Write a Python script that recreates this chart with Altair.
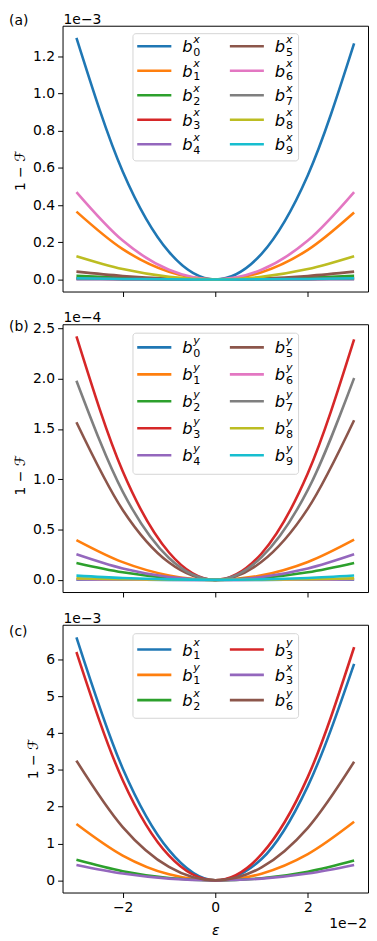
import altair as alt
import pandas as pd

# ---------------- data ----------------
eps = [-3, -2, -1, 0, 1, 2, 3]  # epsilon, units of 1e-2

tab10 = ["#1f77b4", "#ff7f0e", "#2ca02c", "#d62728", "#9467bd",
         "#8c564b", "#e377c2", "#7f7f7f", "#bcbd22", "#17becf"]

# panel (a): 1-F in units of 1e-3
a_sub = ["0", "1", "2", "3", "4", "5", "6", "7", "8", "9"]
a_sup = ["x"] * 10
a_b0 = [1.30, 0.581, 0.148, 0, 0.138, 0.561, 1.27]
a_b1 = [0.365, 0.163, 0.041, 0, 0.039, 0.159, 0.36]
a_b2 = [0.019, 0.0084, 0.0021, 0, 0.0021, 0.0084, 0.019]
a_b3 = [0.006, 0.0027, 0.0007, 0, 0.0007, 0.0027, 0.006]
a_b4 = [0.001, 0.0004, 0.0001, 0, 0.0001, 0.0004, 0.001]
a_b5 = [0.042, 0.0187, 0.0047, 0, 0.0047, 0.0187, 0.042]
a_b6 = [0.47, 0.209, 0.052, 0, 0.052, 0.209, 0.47]
a_b7 = [0.003, 0.0013, 0.0003, 0, 0.0003, 0.0013, 0.003]
a_b8 = [0.125, 0.0556, 0.0139, 0, 0.0139, 0.0556, 0.125]
a_b9 = [0.006, 0.0027, 0.0007, 0, 0.0007, 0.0027, 0.006]

# panel (b): 1-F in units of 1e-4
b_sub = ["0", "1", "2", "3", "4", "5", "6", "7", "8", "9"]
b_sup = ["y"] * 10
b_b0 = [0.002, 0.0009, 0.0002, 0, 0.0002, 0.0009, 0.002]
b_b1 = [0.396, 0.176, 0.044, 0, 0.0445, 0.178, 0.400]
b_b2 = [0.168, 0.0747, 0.0187, 0, 0.0187, 0.0747, 0.168]
b_b3 = [2.42, 1.079, 0.272, 0, 0.262, 1.059, 2.39]
b_b4 = [0.254, 0.113, 0.028, 0, 0.028, 0.113, 0.254]
b_b5 = [1.567, 0.695, 0.172, 0, 0.179, 0.708, 1.587]
b_b6 = [0.006, 0.0027, 0.0007, 0, 0.0007, 0.0027, 0.006]
b_b7 = [1.98, 0.877, 0.217, 0, 0.226, 0.894, 2.006]
b_b8 = [0.015, 0.0067, 0.0017, 0, 0.0017, 0.0067, 0.015]
b_b9 = [0.042, 0.0187, 0.0047, 0, 0.0047, 0.0187, 0.043]

# panel (c): 1-F in units of 1e-3
c_sub = ["1", "1", "2", "3", "3", "6"]
c_sup = ["x", "y", "x", "y", "x", "y"]
c_b1x = [6.60, 3.04, 0.82, 0, 0.58, 2.56, 5.88]
c_b1y = [1.53, 0.673, 0.163, 0, 0.183, 0.713, 1.59]
c_b2x = [0.56, 0.25, 0.064, 0, 0.058, 0.236, 0.54]
c_b3y = [6.20, 2.72, 0.67, 0, 0.71, 2.81, 6.33]
c_b3x = [0.42, 0.187, 0.047, 0, 0.047, 0.187, 0.42]
c_b6y = [3.25, 1.448, 0.364, 0, 0.354, 1.428, 3.22]

FONT = "DejaVu Sans"
W = 308


def panel(series, subs, sups, height, ydomain, yticks, yfmt, tag, offset,
          leg_row0, leg_step, leg_box, title_y, bottom):
    rows = []
    names = []
    for i, s in enumerate(series):
        nm = "s%d" % i
        names.append(nm)
        for e, v in zip(eps, s):
            rows.append({"s": nm, "e": e, "v": v})
    df = pd.DataFrame(rows)
    colors = tab10[:len(series)]

    xaxis = dict(values=[-2, 0, 2], format="d", labels=bottom,
                 title="ε" if bottom else "", titleFontStyle="italic",
                 titlePadding=9)
    lines = alt.Chart(df).mark_line(strokeWidth=2.6, interpolate="monotone").encode(
        x=alt.X("e:Q", scale=alt.Scale(domain=[-3.3, 3.3], nice=False, zero=False),
                axis=alt.Axis(**xaxis)),
        y=alt.Y("v:Q", scale=alt.Scale(domain=ydomain, nice=False, zero=False),
                axis=alt.Axis(values=yticks, format=yfmt, title="1 − ℱ",
                              titleY=title_y, titlePadding=5)),
        color=alt.Color("s:N", scale=alt.Scale(domain=names, range=colors), legend=None),
    )

    # legend (matplotlib style, two columns)
    n = len(series)
    nrows = (n + 1) // 2
    line_x = [(75.3, 109.7), (168.7, 203.0)]
    text_x = [120.7, 214.0]
    leg = []
    for i in range(n):
        col, r = divmod(i, nrows)
        y = leg_row0 + r * leg_step
        leg.append({"x1": line_x[col][0], "x2": line_x[col][1], "y": y,
                    "tx": text_x[col], "yb": y + 6.0, "ysup": y - 3.6,
                    "ysub": y + 9.6, "txs": text_x[col] + 11.2,
                    "c": colors[i], "sub": subs[i], "sup": sups[i]})
    ldf = pd.DataFrame(leg)
    box = alt.Chart(pd.DataFrame([{"x": leg_box[0], "x2": leg_box[1],
                                   "y": leg_box[2], "y2": leg_box[3]}])).mark_rect(
        fill="white", fillOpacity=0.8, stroke="#d5d5d5", strokeWidth=1, cornerRadius=3
    ).encode(x=alt.X("x:Q", scale=None), x2="x2:Q",
             y=alt.Y("y:Q", scale=None), y2="y2:Q")
    lrule = alt.Chart(ldf).mark_rule(strokeWidth=2.6).encode(
        x=alt.X("x1:Q", scale=None), x2="x2:Q", y=alt.Y("y:Q", scale=None),
        color=alt.Color("c:N", scale=None))
    lb = alt.Chart(ldf).mark_text(align="left", baseline="alphabetic", font=FONT,
                                  fontStyle="italic", fontSize=16.5, color="black").encode(
        x=alt.X("tx:Q", scale=None), y=alt.Y("yb:Q", scale=None), text=alt.value("b"))
    lsup = alt.Chart(ldf).mark_text(align="left", baseline="alphabetic", font=FONT,
                                    fontStyle="italic", fontSize=11.2, color="black").encode(
        x=alt.X("txs:Q", scale=None), y=alt.Y("ysup:Q", scale=None), text="sup:N")
    lsub = alt.Chart(ldf).mark_text(align="left", baseline="alphabetic", font=FONT,
                                    fontSize=11.2, color="black").encode(
        x=alt.X("txs:Q", scale=None), y=alt.Y("ysub:Q", scale=None), text="sub:N")

    ann = pd.DataFrame([{"t": tag[0], "o": offset[0]}])
    tag_t = alt.Chart(ann).mark_text(align="left", baseline="alphabetic", font=FONT,
                                     fontSize=14, color="black").encode(
        x=alt.value(-54), y=alt.value(tag[1]), text="t:N")
    off_t = alt.Chart(ann).mark_text(align="left", baseline="alphabetic", font=FONT,
                                     fontSize=14, color="black").encode(
        x=alt.value(1), y=alt.value(offset[1]), text="o:N")
    layers = [lines, box, lrule, lb, lsup, lsub, tag_t, off_t]
    if bottom:
        e2 = alt.Chart(pd.DataFrame([{"t": "1e−2"}])).mark_text(
            align="right", baseline="alphabetic", font=FONT, fontSize=14, color="black"
        ).encode(x=alt.value(W - 1), y=alt.value(height + 36), text="t:N")
        layers.append(e2)
    return alt.layer(*layers).properties(width=W, height=height)


pa = panel([a_b0, a_b1, a_b2, a_b3, a_b4, a_b5, a_b6, a_b7, a_b8, a_b9],
           a_sub, a_sup, 268, [-0.065, 1.365], [0, 0.2, 0.4, 0.6, 0.8, 1.0, 1.2], ".1f",
           ("(a)", -1), ("1e−3", -2), 20.7, 24.7, (71, 238, 8, 136.3), 146, False)
pb = panel([b_b0, b_b1, b_b2, b_b3, b_b4, b_b5, b_b6, b_b7, b_b8, b_b9],
           b_sub, b_sup, 270, [-0.121, 2.541], [0, 0.5, 1.0, 1.5, 2.0, 2.5], ".1f",
           ("(b)", 7), ("1e−4", -2), 23.3, 27.2, (71, 238, 9, 151.3), 152, False)
pc = panel([c_b1x, c_b1y, c_b2x, c_b3y, c_b3x, c_b6y],
           c_sub, c_sup, 270, [-0.33, 6.94], [0, 1, 2, 3, 4, 5, 6], "d",
           ("(c)", 11.5), ("1e−3", -2), 25, 25.5, (71, 238, 9, 94.3), 135, True)

chart = alt.vconcat(pa, pb, pc, spacing=33, bounds="flush").properties(
    padding=0, background="white"
).configure_view(stroke="black", strokeWidth=1).configure_axis(
    grid=False, domain=False, ticks=True, tickColor="black", tickSize=5, tickWidth=1,
    labelFont=FONT, labelFontSize=14, labelColor="black", labelPadding=3,
    titleFont=FONT, titleFontSize=14, titleFontWeight="normal", titleColor="black",
)

chart.save("out.html", embed_options={"renderer": "svg", "actions": False})
